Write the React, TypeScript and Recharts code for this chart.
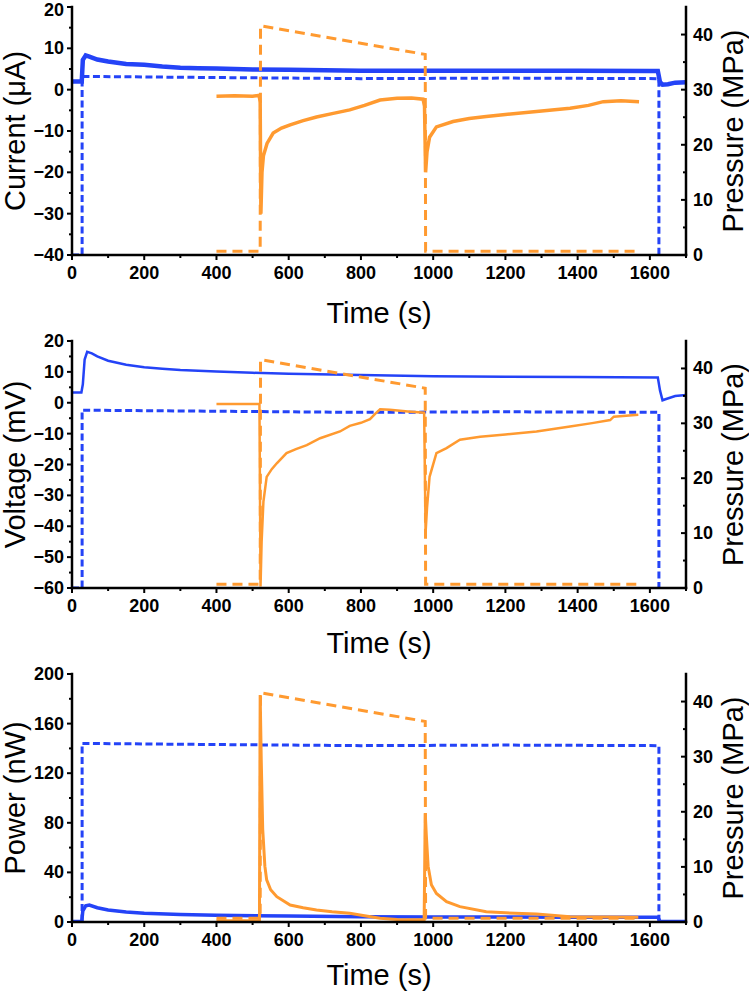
import { ComposedChart, Label, Line, XAxis, YAxis } from "recharts";

type Pt = [number, number];

// axis ticks (minor + major, majors get labels)
const timeTicks = [0, 100, 200, 300, 400, 500, 600, 700, 800, 900, 1000, 1100, 1200, 1300, 1400, 1500, 1600, 1700];
const pressureTicks = [0, 5, 10, 15, 20, 25, 30, 35, 40];
const currentTicks = [-40, -35, -30, -25, -20, -15, -10, -5, 0, 5, 10, 15, 20];
const voltageTicks = [-60, -55, -50, -45, -40, -35, -30, -25, -20, -15, -10, -5, 0, 5, 10, 15, 20];
const powerTicks = [0, 20, 40, 60, 80, 100, 120, 140, 160, 180, 200];

// pressure (MPa), same for all three panels
const bluePressure: Pt[] = [
  [0, 0], [28, 0], [28, 32.4], [400, 32.2], [800, 32.0], [1200, 32.1], [1625, 32.0], [1625, 0],
];
const orangePressure: Pt[] = [
  [400, 0.7], [521, 0.7], [522, 41.6], [978, 36.4], [979, 0.7], [1570, 0.7],
];

// current (µA)
const blueCurrent: Pt[] = [
  [0, 2.0], [27, 2.0], [30, 7.2], [38, 8.3], [48, 8.0], [70, 7.3], [100, 6.8], [150, 6.2],
  [200, 6.0], [250, 5.6], [300, 5.3], [350, 5.2], [400, 5.1], [500, 4.9], [600, 4.8],
  [700, 4.7], [800, 4.6], [900, 4.6], [1000, 4.6], [1200, 4.6], [1400, 4.6], [1600, 4.5],
  [1622, 4.5], [1628, 1.8], [1635, 1.2], [1650, 1.3], [1670, 1.7], [1700, 1.8],
];
const orangeCurrent: Pt[] = [
  [400, -1.6], [450, -1.5], [500, -1.6], [518, -1.4], [521, -3], [523, -30], [526, -20],
  [530, -16], [540, -13], [557, -10.5], [580, -9.3], [604, -8.5], [640, -7.5], [677, -6.6],
  [720, -5.8], [769, -4.9], [810, -3.8], [853, -2.5], [900, -2.1], [940, -2.0], [972, -2.3],
  [976, -4], [979, -20], [983, -15], [990, -11.5], [1009, -9], [1055, -7.7], [1100, -7],
  [1147, -6.5], [1200, -6], [1286, -5.3], [1379, -4.5], [1430, -3.8], [1471, -2.9],
  [1520, -2.7], [1570, -2.9],
];

// voltage (mV)
const blueVoltage: Pt[] = [
  [0, 3.3], [26, 3.3], [30, 6], [35, 14], [42, 16.5], [55, 16], [70, 15], [100, 13.6],
  [150, 12.3], [200, 11.5], [250, 11], [300, 10.6], [400, 10.1], [500, 9.7], [600, 9.4],
  [800, 9.0], [1000, 8.6], [1200, 8.4], [1400, 8.3], [1622, 8.2], [1628, 4], [1635, 0.8],
  [1645, 1.2], [1670, 2.2], [1700, 2.5],
];
const orangeVoltage: Pt[] = [
  [400, -0.4], [519, -0.4], [522, -59.5], [525, -45], [530, -32], [539, -24], [553, -21.5],
  [567, -19.6], [594, -16.3], [620, -15], [650, -13.7], [687, -11.5], [742, -9.3],
  [769, -7.5], [800, -6.5], [825, -5.3], [840, -3.5], [853, -2.1], [880, -2.3], [930, -2.8],
  [975, -3.2], [979, -42], [983, -34], [990, -24], [1009, -16.3], [1037, -14.7],
  [1074, -12], [1130, -11], [1200, -10.3], [1286, -9.3], [1379, -7.7], [1440, -6.6],
  [1490, -5.6], [1500, -4.5], [1568, -3.9],
];

// power (nW)
const bluePower: Pt[] = [
  [0, 0.5], [27, 0.5], [30, 9], [38, 13], [48, 13.7], [70, 11.5], [100, 9.7], [150, 8],
  [200, 7], [300, 6], [400, 5.4], [600, 4.8], [800, 4.3], [1000, 4.1], [1200, 4.0],
  [1400, 3.9], [1622, 3.8], [1628, 0.5], [1700, 0.5],
];
const orangePower: Pt[] = [
  [400, 1], [519, 1], [521, 183], [524, 130], [528, 75], [534, 45], [539, 34], [550, 26],
  [567, 20.4], [604, 13.7], [640, 11.5], [677, 9.7], [720, 8.2], [769, 7], [810, 5],
  [853, 3], [900, 2], [975, 1.8], [978, 87.6], [981, 70], [986, 45], [995, 30], [1009, 23],
  [1037, 16.4], [1074, 12.4], [1147, 8.3], [1200, 7.4], [1286, 6.4], [1379, 4.3],
  [1470, 4], [1568, 3.8],
];

const BLUE = "#2443f7";
const ORANGE = "#ff9a30";
const FONT = "'Liberation Sans', Arial, sans-serif";
const CHART_W = 749;
const PLOT_LEFT = 72;
const PLOT_RIGHT = 686;
const TOP = 7;

const tickText = { fontFamily: FONT, fontWeight: 700, fontSize: 18, fill: "#000" };
const titleText = { fontFamily: FONT, fontWeight: 400, fontSize: 29, fill: "#000" };
const axisLine = { stroke: "#000", strokeWidth: 2.5, strokeLinecap: "square" as const };

const rows = (pts: Pt[]) => pts.map(([t, v]) => ({ t, v }));
const fmt = (v: number) => (v < 0 ? `\u2212${Math.abs(v)}` : `${v}`);
const isMajor = (v: number, step: number) => Math.abs(v % step) < 1e-9;

// minY keeps the topmost label of the first panel inside the page
const leftTick = (step: number, minY: number) => (p: any) => {
  const v = p.payload.value;
  const major = isMajor(v, step);
  return (
    <g>
      <line x1={p.x} x2={p.x - (major ? 5 : 3)} y1={p.y} y2={p.y} stroke="#000" strokeWidth={2} />
      {major && (
        <text x={p.x - 8} y={Math.max(p.y, minY)} textAnchor="end" dominantBaseline="central" style={tickText}>
          {fmt(v)}
        </text>
      )}
    </g>
  );
};

const rightTick = (p: any) => {
  const v = p.payload.value;
  const major = isMajor(v, 10);
  return (
    <g>
      <line x1={p.x} x2={p.x - (major ? 5 : 3)} y1={p.y} y2={p.y} stroke="#000" strokeWidth={2} />
      {major && (
        <text x={p.x + 7} y={p.y} textAnchor="start" dominantBaseline="central" style={tickText}>
          {v}
        </text>
      )}
    </g>
  );
};

const bottomTick = (p: any) => {
  const v = p.payload.value;
  const major = isMajor(v, 200);
  return (
    <g>
      <line x1={p.x} x2={p.x} y1={p.y} y2={p.y + (major ? 5 : 3)} stroke="#000" strokeWidth={2} />
      {major && v <= 1600 && (
        <text x={p.x} y={p.y + 18} textAnchor="middle" dominantBaseline="central" style={tickText}>
          {v}
        </text>
      )}
    </g>
  );
};

const topTick = (p: any) => {
  const major = isMajor(p.payload.value, 200);
  return <line x1={p.x} x2={p.x} y1={p.y} y2={p.y + (major ? 5 : 3)} stroke="#000" strokeWidth={2} />;
};

const title = (text: string, x: number, y: number, angle: number) => () => (
  <text
    x={x}
    y={y}
    transform={angle ? `rotate(${angle}, ${x}, ${y})` : undefined}
    textAnchor="middle"
    dominantBaseline="central"
    style={titleText}
  >
    {text}
  </text>
);

interface PanelProps {
  top: number;
  height: number;
  plotHeight: number;
  timeY: number;
  labelMinY: number;
  yTitle: string;
  yDomain: [number, number];
  yTicks: number[];
  yStep: number;
  blue: Pt[];
  orange: Pt[];
  blueWidth: number;
  orangeWidth: number;
}

const Panel = ({ top, height, plotHeight, timeY, labelMinY, yTitle, yDomain, yTicks, yStep, blue, orange, blueWidth, orangeWidth }: PanelProps) => {
  const midY = TOP + plotHeight / 2;
  return (
    <div style={{ position: "absolute", left: 0, top }}>
      <ComposedChart width={CHART_W} height={height} margin={{ top: TOP, right: 0, bottom: 0, left: 0 }}>
        <XAxis
          xAxisId="bottom"
          dataKey="t"
          type="number"
          domain={[0, 1700]}
          ticks={timeTicks}
          height={height - TOP - plotHeight}
          tickSize={0}
          tickMargin={0}
          tickLine={false}
          axisLine={axisLine}
          tick={bottomTick}
          interval={0}
        >
          <Label value="Time (s)" content={title("Time (s)", (PLOT_LEFT + PLOT_RIGHT) / 2, timeY, 0)} />
        </XAxis>
        <XAxis
          xAxisId="top"
          orientation="top"
          type="number"
          domain={[0, 1700]}
          ticks={timeTicks}
          height={0}
          tickSize={0}
          tickMargin={0}
          tickLine={false}
          axisLine={axisLine}
          tick={topTick}
          interval={0}
        />
        <YAxis
          yAxisId="left"
          type="number"
          domain={yDomain}
          ticks={yTicks}
          width={PLOT_LEFT}
          tickSize={0}
          tickMargin={0}
          tickLine={false}
          axisLine={axisLine}
          tick={leftTick(yStep, labelMinY)}
          interval={0}
          allowDataOverflow
        >
          <Label value={yTitle} content={title(yTitle, 15, midY, -90)} />
        </YAxis>
        <YAxis
          yAxisId="right"
          orientation="right"
          type="number"
          domain={[0, 45]}
          ticks={pressureTicks}
          width={CHART_W - PLOT_RIGHT}
          tickSize={0}
          tickMargin={0}
          tickLine={false}
          axisLine={axisLine}
          tick={rightTick}
          interval={0}
          allowDataOverflow
        >
          <Label value="Pressure (MPa)" content={title("Pressure (MPa)", 733, midY, -90)} />
        </YAxis>
        <Line
          xAxisId="bottom"
          yAxisId="right"
          data={rows(bluePressure)}
          dataKey="v"
          type="linear"
          stroke={BLUE}
          strokeWidth={3}
          strokeDasharray="7 3.5"
          dot={false}
          isAnimationActive={false}
        />
        <Line
          xAxisId="bottom"
          yAxisId="left"
          data={rows(blue)}
          dataKey="v"
          type="linear"
          stroke={BLUE}
          strokeWidth={blueWidth}
          dot={false}
          isAnimationActive={false}
        />
        <Line
          xAxisId="bottom"
          yAxisId="right"
          data={rows(orangePressure)}
          dataKey="v"
          type="linear"
          stroke={ORANGE}
          strokeWidth={3}
          strokeDasharray="10 6"
          dot={false}
          isAnimationActive={false}
        />
        <Line
          xAxisId="bottom"
          yAxisId="left"
          data={rows(orange)}
          dataKey="v"
          type="linear"
          stroke={ORANGE}
          strokeWidth={orangeWidth}
          dot={false}
          isAnimationActive={false}
        />
      </ComposedChart>
    </div>
  );
};

export default function App() {
  return (
    <div style={{ position: "absolute", left: 0, top: 0, width: 749, height: 992, background: "#fff" }}>
      <style>{`.recharts-surface { overflow: visible; }`}</style>
      <Panel
        top={0}
        height={330}
        plotHeight={248}
        timeY={313}
        labelMinY={10}
        yTitle={"Current (\u03bcA)"}
        yDomain={[-40, 20]}
        yTicks={currentTicks}
        yStep={10}
        blue={blueCurrent}
        orange={orangeCurrent}
        blueWidth={4.5}
        orangeWidth={3.5}
      />
      <Panel
        top={334}
        height={330}
        plotHeight={247}
        timeY={309}
        labelMinY={0}
        yTitle="Voltage (mV)"
        yDomain={[-60, 20]}
        yTicks={voltageTicks}
        yStep={10}
        blue={blueVoltage}
        orange={orangeVoltage}
        blueWidth={2.5}
        orangeWidth={2.5}
      />
      <Panel
        top={667}
        height={325}
        plotHeight={248}
        timeY={308}
        labelMinY={0}
        yTitle="Power (nW)"
        yDomain={[0, 200]}
        yTicks={powerTicks}
        yStep={40}
        blue={bluePower}
        orange={orangePower}
        blueWidth={3.5}
        orangeWidth={3}
      />
    </div>
  );
}
